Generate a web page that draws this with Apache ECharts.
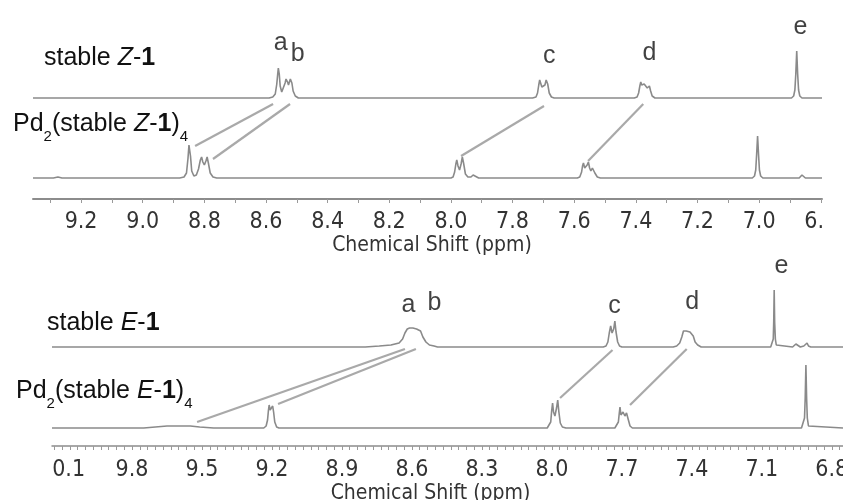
<!DOCTYPE html>
<html><head><meta charset="utf-8">
<script src="https://cdn.jsdelivr.net/npm/echarts@6/dist/echarts.min.js"></script>
<style>html,body{margin:0;padding:0;background:#fff}#c{width:843px;height:500px}</style>
</head><body><div id="c"></div><script>
// ---------- data ----------
const topLabelValues = [9.2, 9.0, 8.8, 8.6, 8.4, 8.2, 8.0, 7.8, 7.6, 7.4, 7.2, 7.0, 6.8];
const topTickValues = [9.3, 9.2, 9.1, 9.0, 8.9, 8.8, 8.7, 8.6, 8.5, 8.4, 8.3, 8.2, 8.1, 8.0, 7.9, 7.8, 7.7, 7.6, 7.5, 7.4, 7.3, 7.2, 7.1, 7.0, 6.9, 6.8];
const botLabelValues = [10.1, 9.8, 9.5, 9.2, 8.9, 8.6, 8.3, 8.0, 7.7, 7.4, 7.1, 6.8];

// spectra: [ppm, intensity above own baseline]
const stableZ = [
  [9.356,0],[8.590,0],[8.578,1],[8.570,4],[8.565,14],[8.562,24],[8.560,30],[8.557,24],[8.554,12],[8.549,6],[8.543,8],[8.538,15],[8.535,19],[8.533,20],[8.530,16],[8.527,13],[8.524,15],[8.521,19],[8.519,20],[8.516,15],[8.512,7],[8.505,2],[8.495,0],
  [7.735,0],[7.724,1],[7.719,5],[7.715,13],[7.712,18],[7.709,16],[7.705,11],[7.700,10],[7.695,13],[7.691,18],[7.689,19],[7.686,14],[7.681,5],[7.674,1],[7.665,0],
  [7.405,0],[7.396,1],[7.391,5],[7.387,12],[7.384,16],[7.381,13],[7.377,11],[7.373,14],[7.370,15],[7.367,12],[7.363,10],[7.359,12],[7.356,12],[7.352,7],[7.347,2],[7.338,0],
  [6.895,0],[6.888,2],[6.884,8],[6.881,24],[6.878,47],[6.875,24],[6.872,8],[6.868,2],[6.861,0],[6.796,0]
];
const pdZ = [
  [9.356,0],[9.290,0],[9.275,1],[9.262,0],[8.880,0],[8.866,1],[8.858,5],[8.853,20],[8.850,33],[8.848,35],[8.845,22],[8.841,7],[8.834,2],[8.826,3],[8.819,9],[8.813,18],[8.809,21],[8.805,16],[8.800,13],[8.795,17],[8.791,21],[8.787,15],[8.781,5],[8.772,1],[8.760,0],
  [8.000,0],[7.993,1],[7.988,6],[7.984,14],[7.981,18],[7.977,12],[7.972,8],[7.967,14],[7.963,21],[7.959,15],[7.953,4],[7.945,1],[7.935,1],[7.928,3],[7.922,1],[7.910,0],
  [7.590,0],[7.582,1],[7.576,6],[7.573,12],[7.570,15],[7.566,10],[7.562,8],[7.558,13],[7.554,16],[7.550,10],[7.546,7],[7.541,10],[7.538,11],[7.533,5],[7.525,1],[7.515,0],
  [7.022,0],[7.015,2],[7.011,8],[7.008,24],[7.005,42],[7.002,24],[6.999,8],[6.995,2],[6.988,0],[6.870,0],[6.865,1],[6.861,3],[6.857,1],[6.850,0],[6.796,0]
];
const stableE = [
  [10.143,0],[8.800,0],[8.740,1],[8.690,2],[8.655,4],[8.640,8],[8.630,14],[8.620,18],[8.610,19],[8.603,20],[8.596,19],[8.588,19],[8.580,18],[8.572,18],[8.563,16],[8.553,10],[8.540,5],[8.525,2],[8.505,1],[8.490,0],
  [7.780,0],[7.768,1],[7.760,5],[7.754,14],[7.748,21],[7.742,14],[7.739,12],[7.735,18],[7.730,26],[7.725,15],[7.718,5],[7.710,1],[7.700,0],
  [7.480,0],[7.465,1],[7.452,4],[7.443,10],[7.436,16],[7.430,18],[7.424,16],[7.416,14],[7.408,15],[7.401,15],[7.394,11],[7.386,5],[7.375,2],[7.360,0],
  [7.062,0],[7.055,2],[7.051,8],[7.049,25],[7.047,57],[7.045,25],[7.042,8],[7.038,2],[7.030,0],[6.968,0],[6.960,1],[6.954,3],[6.948,1],[6.935,0],[6.920,1],[6.912,1],[6.906,4],[6.900,1],[6.890,0],[6.752,0]
];
const pdE = [
  [10.143,0],[9.750,0],[9.700,1],[9.650,2],[9.600,2],[9.550,2],[9.510,1],[9.450,0],
  [9.235,0],[9.225,2],[9.219,8],[9.215,18],[9.212,23],[9.208,18],[9.205,17],[9.201,20],[9.197,22],[9.193,16],[9.188,6],[9.180,1],[9.170,0],
  [8.020,0],[8.012,1],[8.005,6],[8.001,17],[7.997,25],[7.993,16],[7.987,12],[7.980,20],[7.975,28],[7.970,16],[7.964,5],[7.955,1],[7.940,0],
  [7.730,0],[7.722,1],[7.715,6],[7.711,15],[7.708,21],[7.704,13],[7.700,11],[7.695,16],[7.691,18],[7.687,12],[7.684,11],[7.680,15],[7.677,16],[7.672,8],[7.665,2],[7.655,0],
  [6.930,0],[6.922,2],[6.917,10],[6.914,30],[6.911,63],[6.908,30],[6.905,10],[6.900,2],[6.892,0],[6.752,0]
];

// peak letters: [letter, ppm, height above upper trace baseline]
const lettersZ = [['a',8.552,55],['b',8.497,44],['c',7.681,42],['d',7.356,45],['e',6.866,71]];
const lettersE = [['a',8.615,42],['b',8.503,44],['c',7.732,41],['d',7.398,45],['e',7.016,81]];
// connectors: [ppm upper, dy from upper baseline, ppm lower, dy from lower baseline]
const connZ = [[8.577,-6,8.830,32],[8.522,-6,8.772,19],[7.698,-8,7.967,22],[7.376,-6,7.555,17]];
const connE = [[8.630,-2,9.521,6],[8.583,-2,9.174,24],[7.740,-3,7.965,30],[7.422,-2,7.665,23]];

// ---------- layout ----------
const OFF_Z_TOP = 101, OFF_Z_PD = 21;   // top panel baselines (axis units)
const OFF_E_TOP = 99,  OFF_E_PD = 18;   // bottom panel baselines
const TRACE = '#8a8a8a', CONN = '#a9a9a9';
const NUMFONT = "'DejaVu Sans Condensed', 'DejaVu Sans', sans-serif";
const TXTFONT = "'Liberation Sans', Arial, sans-serif";

const shift = (arr, off) => arr.map(([p, v]) => [p, v + off]);
function traceSeries(arr, off, ai) {
  return {type:'line', xAxisIndex:ai, yAxisIndex:ai, data:shift(arr, off), symbol:'none',
    lineStyle:{color:TRACE, width:1.6}, silent:true, animation:false, z:3};
}
function connSeries(list, offTop, offPd, ai) {
  return {type:'lines', coordinateSystem:'cartesian2d', xAxisIndex:ai, yAxisIndex:ai,
    data:list.map(c => ({coords:[[c[0], offTop + c[1]], [c[2], offPd + c[3]]]})),
    lineStyle:{color:CONN, width:2.2, opacity:1, curveness:0}, silent:true, animation:false, z:2};
}
function letterSeries(list, off, ai) {
  return {type:'scatter', xAxisIndex:ai, yAxisIndex:ai, symbolSize:0, silent:true, animation:false,
    data:list.map(l => ({name:l[0], value:[l[1], off + l[2]]})),
    label:{show:true, formatter:'{b}', position:[0,0], align:'center', verticalAlign:'middle',
      fontFamily:TXTFONT, fontSize:25, color:'#111'}};
}
function xAxisCfg(ai, min, max, labels, ticks, margin, nameGap, namePad) {
  return {type:'value', gridIndex:ai, min:min, max:max, inverse:true,
    axisLine:{show:true, lineStyle:{color:'#8c8c8c', width: ai===0 ? 2 : 1.5}},
    axisTick:{show:true, customValues:ticks, length:4, lineStyle:{color:'#9a9a9a', width:1}},
    axisLabel:{show:true, customValues:labels, formatter:v => v.toFixed(1), margin:margin,
      hideOverlap:false, showMinLabel:true, showMaxLabel:true,
      fontFamily:NUMFONT, fontSize:23, color:'#333'},
    splitLine:{show:false},
    name:'Chemical Shift (ppm)', nameLocation:'middle', nameGap:nameGap,
    nameTextStyle:{fontFamily:NUMFONT, fontSize:21, color:'#333', padding:namePad}};
}
// minor ticks of lower axis every 1/30 ppm
const botTickValues = [];
for (let k = -1; k <= 101; k++) botTickValues.push(+(6.8 + k / 30).toFixed(4));

const rich = {
  n:{fontFamily:TXTFONT, fontSize:25, lineHeight:25, color:'#111', verticalAlign:'top'},
  i:{fontFamily:TXTFONT, fontSize:25, lineHeight:25, color:'#111', fontStyle:'italic', verticalAlign:'top'},
  b:{fontFamily:TXTFONT, fontSize:25, lineHeight:25, color:'#111', fontWeight:'bold', verticalAlign:'top'},
  s:{fontFamily:TXTFONT, fontSize:15, lineHeight:15, color:'#111', padding:[17,0,0,0], verticalAlign:'top'}
};
function label(x, y, text) {
  return {type:'text', left:x, top:y, z:10, silent:true, style:{text:text, rich:rich, fill:'#111'}};
}

const chart = echarts.init(document.getElementById('c'));
chart.setOption({
  animation:false,
  backgroundColor:'#fff',
  grid:[
    {left:33, right:21, top:0, height:199, outerBoundsMode:'none', containLabel:false},
    {left:52, right:0, top:250, height:196, outerBoundsMode:'none', containLabel:false}
  ],
  xAxis:[
    xAxisCfg(0, 6.796, 9.356, topLabelValues, topTickValues, 12, 33, [0,0,0,9]),
    xAxisCfg(1, 6.752, 10.143, botLabelValues, botTickValues, 13, 34, [0,34,0,0])
  ],
  yAxis:[
    {type:'value', gridIndex:0, min:0, max:199, show:false},
    {type:'value', gridIndex:1, min:0, max:196, show:false}
  ],
  series:[
    connSeries(connZ, OFF_Z_TOP, OFF_Z_PD, 0),
    connSeries(connE, OFF_E_TOP, OFF_E_PD, 1),
    traceSeries(stableZ, OFF_Z_TOP, 0),
    traceSeries(pdZ, OFF_Z_PD, 0),
    traceSeries(stableE, OFF_E_TOP, 1),
    traceSeries(pdE, OFF_E_PD, 1),
    letterSeries(lettersZ, OFF_Z_TOP, 0),
    letterSeries(lettersE, OFF_E_TOP, 1)
  ],
  graphic:[
    label(44, 46, '{n|stable }{i|Z}{n|-}{b|1}'),
    label(13, 112, '{n|Pd}{s|2}{n|(stable }{i|Z}{n|-}{b|1}{n|)}{s|4}'),
    label(47, 311, '{n|stable }{i|E}{n|-}{b|1}'),
    label(16, 379, '{n|Pd}{s|2}{n|(stable }{i|E}{n|-}{b|1}{n|)}{s|4}'),
    {type:'rect', left:823, top:204, z:20, silent:true, shape:{width:20, height:34}, style:{fill:'#fff'}},
    {type:'rect', left:0, top:452, z:20, silent:true, shape:{width:52, height:30}, style:{fill:'#fff'}}
  ]
});
</script></body></html>
